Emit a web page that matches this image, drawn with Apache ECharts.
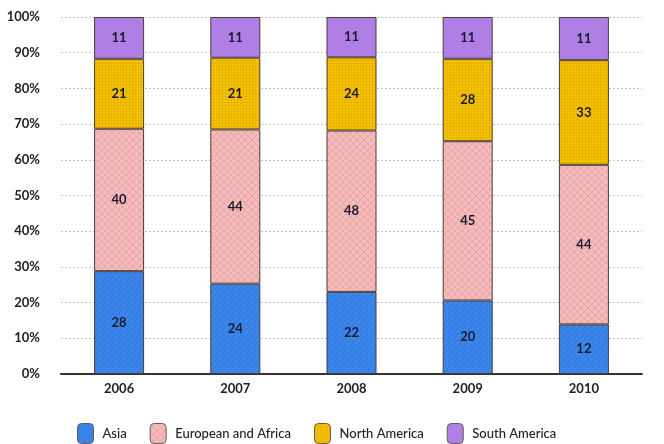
<!DOCTYPE html>
<html>
<head>
<meta charset="utf-8">
<script src="https://cdn.jsdelivr.net/npm/echarts@6/dist/echarts.min.js"></script>
<style>
html,body{margin:0;padding:0;background:#fff;}
#c{width:664px;height:444px;}
</style>
</head>
<body>
<div id="c"></div>
<script>
var categories = ['2006', '2007', '2008', '2009', '2010'];
var seriesNames = ['Asia', 'European and Africa', 'North America', 'South America'];
// displayed labels
var asiaLabels = [28, 24, 22, 20, 12];
var euLabels = [40, 44, 48, 45, 44];
var naLabels = [21, 21, 24, 28, 33];
var saLabels = [11, 11, 11, 11, 11];
// segment heights (percent) as drawn
var asiaHeights = [28.8, 25.3, 23.0, 20.6, 13.9];
var euHeights = [39.9, 43.2, 45.2, 44.6, 44.7];
var naHeights = [19.6, 20.1, 20.5, 23.1, 29.3];
var saHeights = [11.7, 11.4, 11.3, 11.7, 12.1];
var yTicks = [0, 10, 20, 30, 40, 50, 60, 70, 80, 90, 100];

function makePattern(base, line, kind, step) {
  var c = document.createElement('canvas');
  c.width = step; c.height = step;
  var g = c.getContext('2d');
  g.fillStyle = base; g.fillRect(0, 0, step, step);
  g.strokeStyle = line; g.lineWidth = 1;
  g.beginPath();
  if (kind === 'diag') {
    g.moveTo(-1, step + 1); g.lineTo(step + 1, -1);
    g.moveTo(-1, 1); g.lineTo(1, -1);
    g.moveTo(step - 1, step + 1); g.lineTo(step + 1, step - 1);
  } else if (kind === 'cross') {
    g.moveTo(0, step); g.lineTo(step, 0);
    g.moveTo(0, 0); g.lineTo(step, step);
  } else if (kind === 'grid') {
    g.moveTo(0, 0.5); g.lineTo(step, 0.5);
    g.moveTo(0.5, 0); g.lineTo(0.5, step);
  }
  g.stroke();
  return { image: c, repeat: 'repeat' };
}

var fills = [
  makePattern('#3b86ea', '#3273d8', 'diag', 6),
  makePattern('#f6bcbc', '#e3a3a5', 'cross', 7),
  makePattern('#f7c500', '#e9b400', 'grid', 3),
  '#b07fe6'
];
var heights = [asiaHeights, euHeights, naHeights, saHeights];
var labels = [asiaLabels, euLabels, naLabels, saLabels];
var font = 'Lato, "DejaVu Sans", sans-serif';

var series = seriesNames.map(function (name, i) {
  return {
    name: name,
    type: 'bar',
    stack: 'total',
    barWidth: 50,
    data: heights[i],
    itemStyle: { color: fills[i], borderColor: '#4a3a34', borderWidth: 1 },
    label: {
      show: true,
      position: 'inside',
      color: '#1a1a2e',
      fontFamily: font,
      fontWeight: 'bold',
      fontSize: 13,
      formatter: function (p) { return labels[i][p.dataIndex]; }
    },
    emphasis: { disabled: true }
  };
});

var chart = echarts.init(document.getElementById('c'), null, { renderer: 'canvas' });
chart.setOption({
  animation: false,
  backgroundColor: '#fff',
  grid: { left: 61, right: 22, top: 17, bottom: 70 },
  legend: {
    data: seriesNames,
    left: 72,
    top: 418,
    itemWidth: 16,
    itemHeight: 20,
    itemGap: 23,
    textStyle: { fontFamily: font, fontSize: 13, color: '#222', fontWeight: 500, padding: [0, 0, 0, 4] },
    itemStyle: { borderColor: '#6a5a54', borderWidth: 1 }
  },
  xAxis: {
    type: 'category',
    data: categories,
    axisLine: { lineStyle: { color: '#333', width: 2 } },
    axisTick: { show: false },
    axisLabel: { color: '#222', fontFamily: font, fontWeight: 'bold', fontSize: 13, margin: 8 }
  },
  yAxis: {
    type: 'value',
    min: yTicks[0],
    max: yTicks[yTicks.length - 1],
    interval: yTicks[1] - yTicks[0],
    axisLine: { show: false },
    axisTick: { show: false },
    axisLabel: { formatter: '{value}%', color: '#222', fontFamily: font, fontWeight: 'bold', fontSize: 13, margin: 21 },
    splitLine: { lineStyle: { color: '#c4c4c4', type: [2, 2], width: 1 } }
  },
  series: series
});
</script>
</body>
</html>
